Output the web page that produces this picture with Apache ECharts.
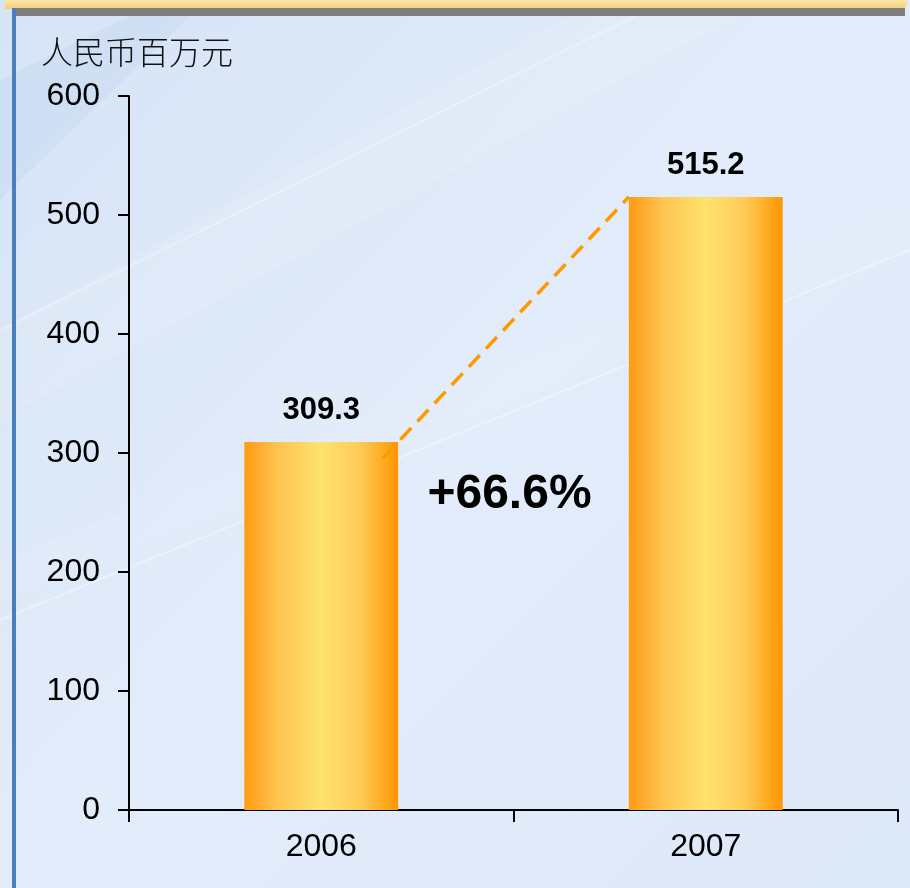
<!DOCTYPE html>
<html>
<head>
<meta charset="utf-8">
<script src="https://cdn.jsdelivr.net/npm/echarts@6/dist/echarts.min.js"></script>
<style>
  html, body { margin: 0; padding: 0; }
  #chart { width: 910px; height: 888px; }
</style>
</head>
<body>
<div id="chart"></div>
<script>
// 数据
const years = ['2006', '2007'];
const revenue = [309.3, 515.2];
const unitName = '人民币百万元';
const yTicks = [0, 100, 200, 300, 400, 500, 600];

const chart = echarts.init(document.getElementById('chart'));

// 增长率
const growth = ((revenue[1] / revenue[0] - 1) * 100).toFixed(1);

const barColor = new echarts.graphic.LinearGradient(0, 0, 1, 0, [
  { offset: 0, color: '#ff9a12' },
  { offset: 0.22, color: '#ffc452' },
  { offset: 0.5, color: '#ffe26e' },
  { offset: 0.75, color: '#ffcb58' },
  { offset: 1, color: '#ff9600' }
]);

const font = '"Liberation Sans", Arial, sans-serif';

chart.setOption({
  backgroundColor: new echarts.graphic.LinearGradient(0, 0, 1, 1, [
    { offset: 0, color: '#d6e4f6' },
    { offset: 0.5, color: '#e3ecfa' },
    { offset: 1, color: '#dde8f8' }
  ]),
  animation: false,
  graphic: [
    // 背景斜纹
    { type: 'polygon', silent: true, z: -10,
      shape: { points: [[0, 330], [0, 420], [910, -80], [910, -170]] },
      style: { fill: 'rgba(255,255,255,0.1)' } },
    { type: 'polygon', silent: true, z: -10,
      shape: { points: [[0, 560], [0, 600], [910, 250], [910, 210]] },
      style: { fill: 'rgba(255,255,255,0.08)' } },
    { type: 'line', silent: true, z: -9,
      shape: { x1: 0, y1: 620, x2: 910, y2: 250 },
      style: { stroke: 'rgba(255,255,255,0.35)', lineWidth: 2 } },
    { type: 'line', silent: true, z: -9,
      shape: { x1: 0, y1: 330, x2: 910, y2: -120 },
      style: { stroke: 'rgba(255,255,255,0.3)', lineWidth: 2 } },
    { type: 'polygon', silent: true, z: -10,
      shape: { points: [[0, 80], [0, 200], [190, 16], [130, 16]] },
      style: { fill: 'rgba(160,190,230,0.15)' } },
    // 顶部条
    { type: 'rect', silent: true, z: -5,
      shape: { x: 5, y: 0, width: 902, height: 9, r: [0, 0, 6, 0] },
      style: { fill: new echarts.graphic.LinearGradient(0, 0, 0, 1, [
        { offset: 0, color: '#fbe7a8' },
        { offset: 1, color: '#f2cf78' }
      ]) } },
    { type: 'rect', silent: true, z: -5,
      shape: { x: 15, y: 8, width: 890, height: 8 },
      style: { fill: '#7f7f7f' } },
    // 左侧蓝线
    { type: 'rect', silent: true, z: -5,
      shape: { x: 12, y: 8, width: 4, height: 880 },
      style: { fill: '#4a7ebd' } }
  ],
  grid: { left: 129, right: 12, top: 96, bottom: 78 },
  xAxis: {
    type: 'category',
    data: years,
    axisLine: { lineStyle: { color: '#000', width: 2 } },
    axisTick: { show: true, length: 12, lineStyle: { color: '#000', width: 2 } },
    axisLabel: { color: '#000', fontSize: 32, fontFamily: font, margin: 21 }
  },
  yAxis: {
    type: 'value',
    min: yTicks[0],
    max: yTicks[yTicks.length - 1],
    interval: yTicks[1] - yTicks[0],
    name: unitName,
    nameLocation: 'end',
    nameGap: 44,
    nameTextStyle: {
      color: '#111', fontSize: 32, align: 'center', verticalAlign: 'middle',
      fontFamily: '"Noto Sans CJK SC", sans-serif', fontWeight: 300,
      padding: [0, 0, 0, 16]
    },
    splitLine: { show: false },
    axisLine: { show: true, lineStyle: { color: '#000', width: 2 } },
    axisTick: { show: true, length: 11, lineStyle: { color: '#000', width: 2 } },
    axisLabel: { color: '#000', fontSize: 32, fontFamily: font, margin: 29 }
  },
  series: [
    {
      type: 'bar',
      data: revenue,
      barWidth: '40%',
      itemStyle: { color: barColor },
      label: {
        show: true,
        position: 'top',
        distance: 16,
        color: '#000',
        fontSize: 31,
        fontWeight: 'bold',
        fontFamily: font,
        formatter: p => p.value.toFixed(1)
      },
      z: 2
    },
    {
      // 两柱之间的虚线和增长率
      type: 'custom',
      data: [[0, revenue[0], 1, revenue[1]]],
      z: 5,
      renderItem: (params, api) => {
        const halfW = api.size([1, 0])[0] * 0.4 / 2;
        const a = api.coord([api.value(0), api.value(1)]);
        const b = api.coord([api.value(2), api.value(3)]);
        const x1 = a[0] + halfW, y1 = a[1];
        const x2 = b[0] - halfW, y2 = b[1];
        const t = -0.065;
        const sx = x1 + (x2 - x1) * t, sy = y1 + (y2 - y1) * t;
        return {
          type: 'group',
          children: [
            {
              type: 'line',
              shape: { x1: sx, y1: sy, x2: x2, y2: y2 },
              style: { stroke: '#ff9900', lineWidth: 3.5, lineDash: [16, 9] }
            },
            {
              type: 'text',
              style: {
                x: (a[0] + b[0]) / 2 - 4,
                y: a[1] + 53,
                text: '+' + growth + '%',
                fill: '#000',
                font: 'bold 48px ' + font,
                align: 'center',
                verticalAlign: 'middle'
              }
            }
          ]
        };
      }
    }
  ]
});
</script>
</body>
</html>
